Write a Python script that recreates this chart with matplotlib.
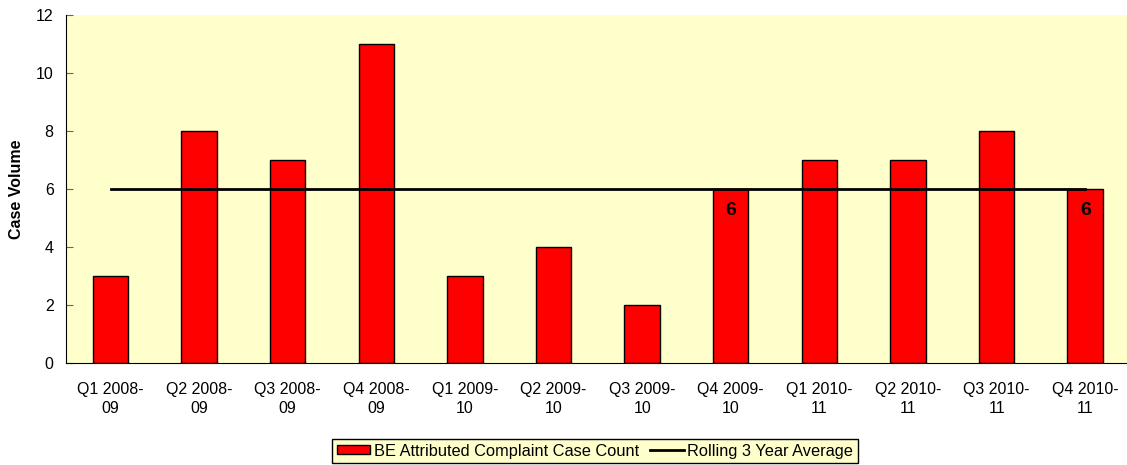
import matplotlib
matplotlib.use("Agg")
import matplotlib.pyplot as plt
import numpy as np

plt.rcParams['font.family'] = ['Liberation Sans', 'DejaVu Sans']

categories = ["Q1 2008-\n09", "Q2 2008-\n09", "Q3 2008-\n09", "Q4 2008-\n09",
              "Q1 2009-\n10", "Q2 2009-\n10", "Q3 2009-\n10", "Q4 2009-\n10",
              "Q1 2010-\n11", "Q2 2010-\n11", "Q3 2010-\n11", "Q4 2010-\n11"]
case_counts = [3, 8, 7, 11, 3, 4, 2, 6, 7, 7, 8, 6]
rolling_avg = [6] * 12
labelled_idx = [7, 11]

fig = plt.figure(figsize=(11.27, 4.65), dpi=100)
W, H = 1127, 465
left, right, top, bottom = 66.2, 1129.5, 15, 362.7
ax = fig.add_axes([left / W, (H - bottom) / H, (right - left) / W, (bottom - top) / H])
ax.set_facecolor('#FFFFCC')

x = np.arange(len(categories))
bars = ax.bar(x, case_counts, width=0.4, color='#FF0000', edgecolor='black', linewidth=1,
              label='BE Attributed Complaint Case Count', zorder=2)
line, = ax.plot(x, rolling_avg, color='black', linewidth=2, label='Rolling 3 Year Average', zorder=3)

for i in labelled_idx:
    ax.text(x[i], case_counts[i] - 0.75, str(case_counts[i]), ha='center', va='center',
            fontsize=14, fontweight='bold', color='black', zorder=4)

ax.set_xlim(-0.5, len(categories) - 0.5)
ax.set_ylim(0, 12)
ax.set_yticks(range(0, 13, 2))
ax.set_xticks(x)
ax.set_xticklabels(categories, fontsize=11.5, linespacing=1.3)
ax.tick_params(axis='x', length=0, pad=14)
ax.tick_params(axis='y', direction='in', length=5, color='#666666', labelsize=11.5, pad=9)
for s in ['top', 'right']:
    ax.spines[s].set_visible(False)
ax.spines['left'].set_color('black')
ax.spines['bottom'].set_color('black')
ax.set_ylabel('Case Volume', fontsize=11.5, fontweight='bold')
ax.yaxis.set_label_coords((24 - left) / (right - left), 0.5)

leg = fig.legend([bars, line], ['BE Attributed Complaint Case Count', 'Rolling 3 Year Average'],
                 loc='center', bbox_to_anchor=(595 / W, 1 - 451 / H), ncol=2, frameon=True,
                 fancybox=False, facecolor='#FFFFCC', edgecolor='black', fontsize=11.8,
                 handlelength=2.05, handleheight=0.5, columnspacing=0.7, handletextpad=0.2,
                 borderpad=0.3, borderaxespad=0)
leg.get_frame().set_linewidth(1)
leg.get_frame().set_alpha(1)

fig.savefig('out.png', dpi=100)
